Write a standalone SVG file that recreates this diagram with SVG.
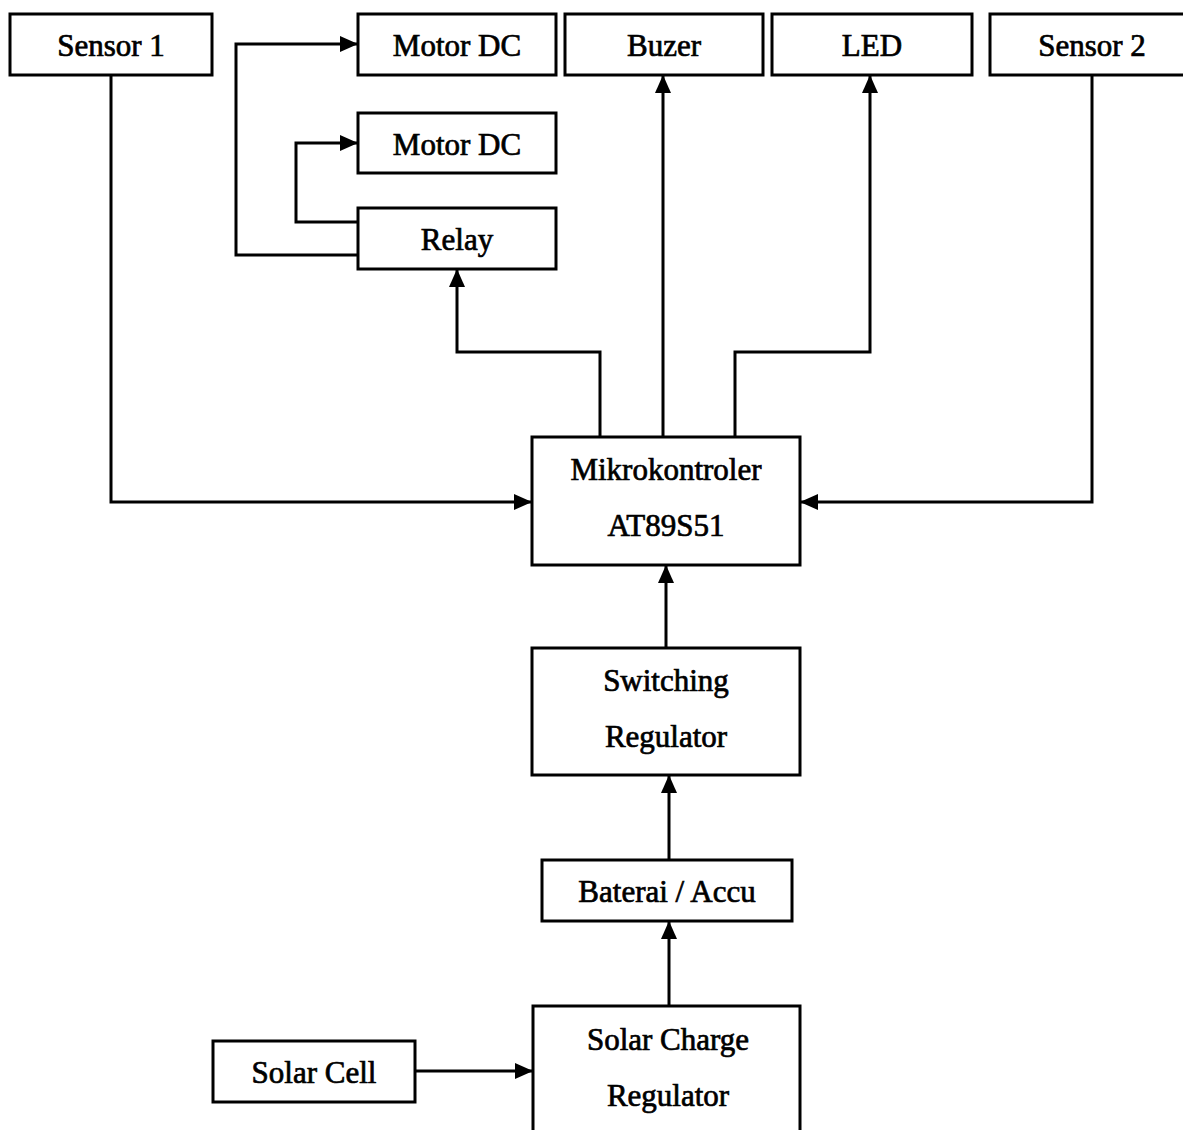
<svg xmlns="http://www.w3.org/2000/svg" width="1183" height="1130" viewBox="0 0 1183 1130">
<style>
.box{fill:#fff;stroke:#000;stroke-width:3}
.lbl{font-family:"Liberation Serif","Times New Roman",serif;font-size:31px;fill:#000;stroke:#000;stroke-width:0.7;text-anchor:middle}
.wire{fill:none;stroke:#000;stroke-width:3}
</style>
<defs>
<marker id="ah" markerWidth="18" markerHeight="16" refX="17" refY="8" orient="auto" markerUnits="userSpaceOnUse">
<path d="M0,0 L18,8 L0,16 Z" fill="#000"/>
</marker>
</defs>
<rect width="1183" height="1130" fill="#fff"/>
<g id="connectors">
<path class="wire" d="M111,75 V502 H531" marker-end="url(#ah)"/>
<path class="wire" d="M1092,75 V502 H801" marker-end="url(#ah)"/>
<path class="wire" d="M358,255 H236 V44 H357" marker-end="url(#ah)"/>
<path class="wire" d="M358,222 H296 V143 H357" marker-end="url(#ah)"/>
<path class="wire" d="M600,437 V352 H457 V270" marker-end="url(#ah)"/>
<path class="wire" d="M663,437 V76" marker-end="url(#ah)"/>
<path class="wire" d="M735,437 V352 H870 V76" marker-end="url(#ah)"/>
<path class="wire" d="M666,648 V566" marker-end="url(#ah)"/>
<path class="wire" d="M669,860 V776" marker-end="url(#ah)"/>
<path class="wire" d="M669,1006 V922" marker-end="url(#ah)"/>
<path class="wire" d="M415,1071 H532" marker-end="url(#ah)"/>
</g>
<g id="sensor1"><rect class="box" x="10" y="14" width="202" height="61"/><text class="lbl" x="111" y="56">Sensor 1</text></g>
<g id="motordc1"><rect class="box" x="358" y="14" width="198" height="61"/><text class="lbl" x="457" y="56">Motor DC</text></g>
<g id="buzer"><rect class="box" x="565" y="14" width="198" height="61"/><text class="lbl" x="664" y="56">Buzer</text></g>
<g id="led"><rect class="box" x="772" y="14" width="200" height="61"/><text class="lbl" x="872" y="56">LED</text></g>
<g id="sensor2"><rect class="box" x="990" y="14" width="200" height="61"/><text class="lbl" x="1092" y="56">Sensor 2</text></g>
<g id="motordc2"><rect class="box" x="358" y="113" width="198" height="60"/><text class="lbl" x="457" y="155">Motor DC</text></g>
<g id="relay"><rect class="box" x="358" y="208" width="198" height="61"/><text class="lbl" x="457" y="250">Relay</text></g>
<g id="mikrokontroler"><rect class="box" x="532" y="437" width="268" height="128"/><text class="lbl" x="666" y="480">Mikrokontroler</text><text class="lbl" x="666" y="536">AT89S51</text></g>
<g id="switching"><rect class="box" x="532" y="648" width="268" height="127"/><text class="lbl" x="666" y="691">Switching</text><text class="lbl" x="666" y="747">Regulator</text></g>
<g id="baterai"><rect class="box" x="542" y="860" width="250" height="61"/><text class="lbl" x="667" y="902">Baterai / Accu</text></g>
<g id="solarcharge"><rect class="box" x="533" y="1006" width="267" height="130"/><text class="lbl" x="668" y="1050">Solar Charge</text><text class="lbl" x="668" y="1106">Regulator</text></g>
<g id="solarcell"><rect class="box" x="213" y="1041" width="202" height="61"/><text class="lbl" x="314" y="1083">Solar Cell</text></g>
</svg>
